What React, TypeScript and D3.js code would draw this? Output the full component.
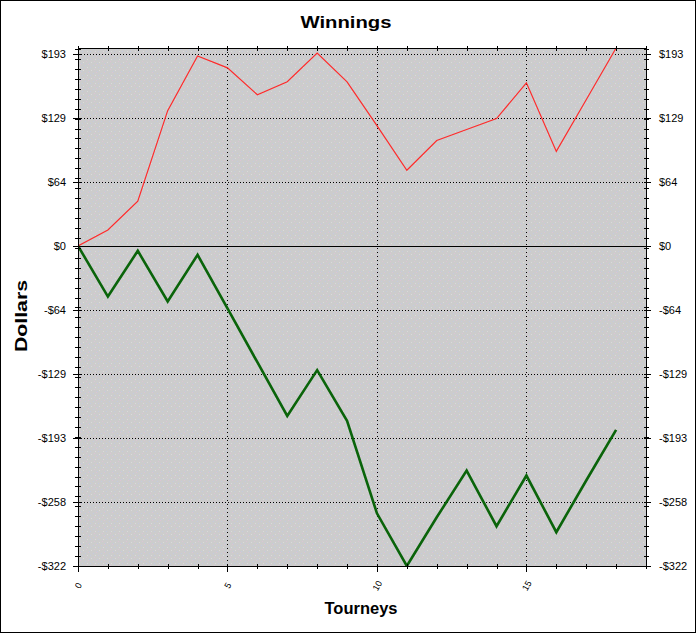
import React from 'react';
import * as d3 from 'd3';

const tourneys = [0, 1, 2, 3, 4, 5, 6, 7, 8, 9, 10, 11, 12, 13, 14, 15, 16, 17, 18];
const winningsRed = [0, 16, 45, 136, 191, 179, 152, 165, 194, 165, 121, 76, 106, 117, 128, 164, 95, 147, 199];
const winningsGreen = [0, -51, -5, -56, -9, -63, -117, -171, -125, -176, -269, -322, -273, -226, -282, -231, -288, -236, -185];
const yTickValues = [-322, -257.6, -193.2, -128.8, -64.4, 0, 64.4, 128.8, 193.2];
const yTickLabels = ['-$322', '-$258', '-$193', '-$129', '-$64', '$0', '$64', '$129', '$193'];
const xTickValues = [0, 5, 10, 15];
const xTickLabels = ['0', '5', '10', '15'];
const xDomainMax = 19;

const W = 696, H = 633;
const L = 78, R = 646, T = 48, B = 566;
const FONT = '"Liberation Sans", Arial, sans-serif';

export default function App() {
  const yMin = d3.min(winningsGreen) as number;
  const yMax = d3.max(winningsRed) as number;
  const x = d3.scaleLinear().domain([0, xDomainMax]).range([L, R]);
  const y = d3.scaleLinear().domain([yMin, yMax]).range([B, T]);
  const px = (v: number) => Math.round(v) + 0.5;

  const line = d3.line<number>().x((_, i) => x(tourneys[i])).y((d) => y(d));
  const minorY = d3.range(yMin, yMax + 0.001, 10);
  const minorX = d3.range(0, xDomainMax + 0.001, 1);

  return (
    <svg width={W} height={H} style={{ position: 'absolute', left: 0, top: 0, background: '#fff' }}>
      <defs>
        <pattern id="speck" width="8" height="8" patternUnits="userSpaceOnUse">
          <rect width="8" height="8" fill="#cccccc" />
          <rect x="0" y="0" width="1" height="1" fill="#dcc4d4" />
          <rect x="5" y="1" width="1" height="1" fill="#c4cae0" />
          <rect x="2" y="3" width="1" height="1" fill="#c4cae0" />
          <rect x="6" y="5" width="1" height="1" fill="#dcc4d4" />
          <rect x="3" y="6" width="1" height="1" fill="#dadada" />
          <rect x="7" y="3" width="1" height="1" fill="#dadada" />
          <rect x="1" y="7" width="1" height="1" fill="#c4cae0" />
        </pattern>
        <clipPath id="plotclip">
          <rect x={L} y={T - 1} width={R - L} height={B - T + 2} />
        </clipPath>
      </defs>
      <rect x={0.5} y={0.5} width={W - 1} height={H - 1} fill="#fff" stroke="#000" strokeWidth={1} />
      <text x={346} y={28} textAnchor="middle" fontFamily={FONT} fontWeight="bold" fontSize={17} textLength={91} lengthAdjust="spacingAndGlyphs">Winnings</text>

      <rect x={L} y={T} width={R - L} height={B - T} fill="url(#speck)" />

      {yTickValues.filter((v) => v !== 0 && v !== yMin).map((v) => (
        <line key={'gy' + v} x1={L} x2={R} y1={px(y(v))} y2={px(y(v))} stroke="#000" strokeDasharray="1 2" />
      ))}
      {xTickValues.filter((v) => v !== 0).map((v) => (
        <line key={'gx' + v} x1={px(x(v))} x2={px(x(v))} y1={T} y2={B} stroke="#000" strokeDasharray="1 3" />
      ))}
      <line x1={L} x2={R} y1={px(y(0))} y2={px(y(0))} stroke="#000" />

      <g clipPath="url(#plotclip)">
        <path d={line(winningsRed) || ''} fill="none" stroke="#ff2a2a" strokeWidth={1.2} />
        <path d={line(winningsGreen) || ''} fill="none" stroke="#0a640a" strokeWidth={2.6} strokeLinejoin="miter" />
      </g>

      <line x1={L} x2={R} y1={T + 0.5} y2={T + 0.5} stroke="#000" />
      <line x1={px(L)} x2={px(L)} y1={T} y2={B} stroke="#000" />
      <line x1={px(R)} x2={px(R)} y1={T} y2={B} stroke="#000" />
      <line x1={L} x2={R + 1} y1={px(B)} y2={px(B)} stroke="#000" />

      {minorY.map((v) => (
        <g key={'my' + v}>
          <line x1={L - 3} x2={L + 3} y1={px(y(v))} y2={px(y(v))} stroke="#000" />
          <line x1={R - 2} x2={R + 3} y1={px(y(v))} y2={px(y(v))} stroke="#000" />
        </g>
      ))}
      {yTickValues.map((v, i) => (
        <g key={'yt' + v}>
          <line x1={L - 5} x2={L + 3} y1={px(y(v))} y2={px(y(v))} stroke="#000" />
          <line x1={R - 2} x2={R + 5} y1={px(y(v))} y2={px(y(v))} stroke="#000" />
          <text x={66} y={y(v) + 4} textAnchor="end" fontFamily={FONT} fontSize={11}>{yTickLabels[i]}</text>
          <text x={659} y={y(v) + 4} textAnchor="start" fontFamily={FONT} fontSize={11}>{yTickLabels[i]}</text>
        </g>
      ))}
      {minorX.map((v) => (
        <g key={'mx' + v}>
          <line x1={px(x(v))} x2={px(x(v))} y1={B - 2} y2={B + 3} stroke="#000" />
          <line x1={px(x(v))} x2={px(x(v))} y1={T - 2} y2={T + 3} stroke="#000" />
        </g>
      ))}
      {xTickValues.map((v, i) => (
        <g key={'xt' + v}>
          <line x1={px(x(v))} x2={px(x(v))} y1={B - 2} y2={B + 6} stroke="#000" />
          <text transform={`translate(${x(v) + 1},${586}) rotate(-60)`} textAnchor="middle" dominantBaseline="middle" fontFamily={FONT} fontSize={9}>{xTickLabels[i]}</text>
        </g>
      ))}

      <text x={361} y={614} textAnchor="middle" fontFamily={FONT} fontWeight="bold" fontSize={17} textLength={73} lengthAdjust="spacingAndGlyphs">Tourneys</text>
      <text transform="translate(27,316) rotate(-90)" textAnchor="middle" fontFamily={FONT} fontWeight="bold" fontSize={17} textLength={72} lengthAdjust="spacingAndGlyphs">Dollars</text>
    </svg>
  );
}
